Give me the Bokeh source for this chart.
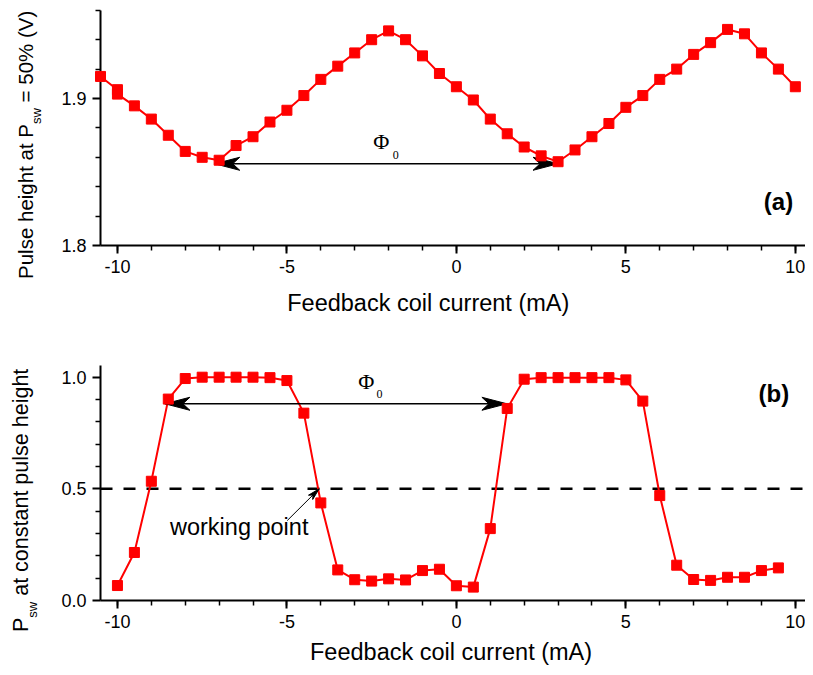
import math
from bokeh.plotting import figure
from bokeh.layouts import column
from bokeh.models import FixedTicker, Label, Range1d
from bokeh.embed import file_html
from bokeh.resources import INLINE

# ---------------- data ----------------
current_a = [-10.5, -10, -10, -9.5, -9, -8.5, -8, -7.5, -7, -6.5, -6, -5.5, -5,
             -4.5, -4, -3.5, -3, -2.5, -2, -1.5, -1, -0.5, 0,
             0.5, 1, 1.5, 2, 2.5, 3, 3.5, 4, 4.5, 5,
             5.5, 6, 6.5, 7, 7.5, 8, 8.5, 9, 9.5, 10]
height_a = [1.915, 1.906, 1.903, 1.895, 1.886, 1.875, 1.864, 1.860, 1.858, 1.868, 1.874, 1.884, 1.892,
            1.902, 1.913, 1.922, 1.931, 1.940, 1.946, 1.940, 1.929, 1.917, 1.908,
            1.899, 1.886, 1.876, 1.867, 1.861, 1.857, 1.865, 1.874, 1.883, 1.894,
            1.902, 1.913, 1.920, 1.930, 1.938, 1.947, 1.944, 1.931, 1.920, 1.908]

current_b = [-10, -9.5, -9, -8.5, -8, -7.5, -7, -6.5, -6, -5.5, -5,
             -4.5, -4, -3.5, -3, -2.5, -2, -1.5, -1, -0.5, 0,
             0.5, 1, 1.5, 2, 2.5, 3, 3.5, 4, 4.5, 5,
             5.5, 6, 6.5, 7, 7.5, 8, 8.5, 9, 9.5]
psw_b = [0.067, 0.215, 0.534, 0.902, 0.994, 1.0, 1.0, 1.0, 1.0, 0.998, 0.985,
         0.839, 0.437, 0.137, 0.093, 0.087, 0.097, 0.092, 0.134, 0.140, 0.066,
         0.060, 0.322, 0.860, 0.991, 0.998, 0.998, 0.998, 0.998, 0.998, 0.988,
         0.893, 0.470, 0.158, 0.094, 0.090, 0.104, 0.104, 0.134, 0.146]

x_ticks = [-10, -5, 0, 5, 10]
x_tick_labels = ["-10", "-5", "0", "5", "10"]
x_minor = [-10, -9, -8, -7, -6, -5, -4, -3, -2, -1, 0, 1, 2, 3, 4, 5, 6, 7, 8, 9, 10]
ya_ticks = [1.8, 1.9]
ya_tick_labels = ["1.8", "1.9"]
ya_minor = [1.82, 1.84, 1.86, 1.88, 1.92, 1.94, 1.96]
yb_ticks = [0.0, 0.5, 1.0]
yb_tick_labels = ["0.0", "0.5", "1.0"]
yb_minor = [0.1, 0.2, 0.3, 0.4, 0.6, 0.7, 0.8, 0.9]
working_level = 0.5

# annotation anchors (data units)
phi_arrow_a = (-7.13, 3.0, 1.8556)
phi_arrow_b = (-8.6, 1.49, 0.881)
wp_tail = (-4.99, 0.358)
wp_tip = (-4.05, 0.5)

X_BOUNDS = (-10.5, 10.3)
YA_BOUNDS = (1.8, 1.96)
YB_BOUNDS = (0.0, 1.052)

RED = "#ff0000"
SANS = "Liberation Sans"
SERIF = "Liberation Serif"
MID = 0.3465   # (ascent - descent) / 2 in em: baseline -> middle offset

# ---------------- geometry ----------------
W = 805
H1, H2 = 330, 337
AX_LEFT_PX = 100                       # pixel of x = -10.5
XS = (W - AX_LEFT_PX) / (X_BOUNDS[1] - X_BOUNDS[0])   # px per mA
X_RANGE = (X_BOUNDS[0] - AX_LEFT_PX / XS, X_BOUNDS[1])

YA_S = 1470.0                          # px per V
YA_RANGE = (1.8 - (H1 - 245) / YA_S, 1.8 + 245 / YA_S)
YB_S = 223.3                           # px per unit
YB_ZERO = 600 - H1                     # px from top of fig2 to y=0
YB_RANGE = (-(H2 - YB_ZERO) / YB_S, YB_ZERO / YB_S)


# reference picture pixel -> data
def rx(px):
    return (px - 460.7) / 34.2


def ry1(py):
    return 1.8 + (245 - py) / YA_S


def ry2(py):
    return (600 - py) / YB_S


ARIAL = {" ": 278, "P": 667, "u": 556, "l": 222, "s": 500, "e": 556, "h": 556, "i": 222,
         "g": 556, "t": 278, "a": 556, "w": 722, "=": 584, "5": 556, "0": 556, "%": 889,
         "(": 333, "V": 667, ")": 333, "c": 500, "o": 556, "n": 556, "p": 556}


def tw(s, size):
    return sum(ARIAL.get(ch, 556) for ch in s) / 1000.0 * size


def make_fig(h, yr, ybounds, yticks, yminor, ylabels):
    p = figure(width=W, height=h, output_backend="svg", toolbar_location=None,
               x_range=Range1d(*X_RANGE), y_range=Range1d(*yr))
    p.min_border = 0
    p.min_border_left = 0
    p.min_border_right = 0
    p.min_border_top = 0
    p.min_border_bottom = 0
    p.outline_line_color = None
    p.grid.visible = False
    p.background_fill_color = "white"
    p.border_fill_color = "white"
    xa, ya = p.xaxis[0], p.yaxis[0]
    xa.fixed_location = ybounds[0]
    xa.bounds = X_BOUNDS
    ya.fixed_location = X_BOUNDS[0]
    ya.bounds = ybounds
    for ax in (xa, ya):
        ax.axis_line_width = 2
        ax.axis_line_color = "black"
        ax.major_tick_line_width = 2
        ax.minor_tick_line_width = 1.5
        ax.major_tick_line_color = "black"
        ax.minor_tick_line_color = "black"
        ax.major_tick_in = 0
        ax.major_tick_out = 8
        ax.minor_tick_in = 0
        ax.minor_tick_out = 5
        ax.major_label_text_font = SANS
        ax.major_label_text_font_size = "18px"
        ax.major_label_text_color = "black"
        ax.major_label_standoff = 6
    xa.ticker = FixedTicker(ticks=x_ticks, minor_ticks=x_minor)
    xa.major_label_overrides = {t: l for t, l in zip(x_ticks, x_tick_labels)}
    ya.ticker = FixedTicker(ticks=yticks, minor_ticks=yminor)
    ya.major_label_overrides = {t: l for t, l in zip(yticks, ylabels)}
    return p


def add_text(p, ys, x, y, text, size, font=SANS, rotated=False, align="left",
             style="normal", on_baseline=True):
    """(x, y) is the baseline anchor in data units; drawn with a middle baseline."""
    if on_baseline:
        if rotated:
            x = x - MID * size / XS
        else:
            y = y + MID * size / ys
    p.add_layout(Label(x=x, y=y, text=text, angle=(math.pi / 2 if rotated else 0.0),
                       text_font=font, text_font_size=f"{size}px", text_align=align,
                       text_baseline="middle", text_font_style=style,
                       text_color="black"))


def add_head(p, ys, tail, tip, L, Wd):
    tx, ty = tip[0] * XS, tip[1] * ys
    sx, sy = tail[0] * XS, tail[1] * ys
    d = math.hypot(tx - sx, ty - sy)
    ux, uy = (tx - sx) / d, (ty - sy) / d
    nx, ny = -uy, ux
    bx, by = tx - L * ux, ty - L * uy
    pts = [(tx, ty), (bx + nx * Wd / 2, by + ny * Wd / 2),
           (tx - 0.72 * L * ux, ty - 0.72 * L * uy), (bx - nx * Wd / 2, by - ny * Wd / 2)]
    p.patch([q[0] / XS for q in pts], [q[1] / ys for q in pts], fill_color="black",
            line_color="black", line_width=1)


def double_arrow(p, ys, arrow):
    x0, x1, y = arrow
    p.segment(x0=[x0], y0=[y], x1=[x1], y1=[y], line_color="black", line_width=1.5)
    add_head(p, ys, (x1, y), (x0, y), 25, 13)
    add_head(p, ys, (x0, y), (x1, y), 25, 13)


def y_title(p, ys, x_base, y_start, pieces):
    """pieces: list of (text, size, baseline offset px); consecutive along the rotated line."""
    y = y_start
    for text, size, off in pieces:
        lead = len(text) - len(text.lstrip(" "))
        y += tw(" " * lead, size) / ys
        body = text.lstrip(" ")
        add_text(p, ys, x_base + off / XS, y, body, size, rotated=True)
        y += tw(body, size) / ys


# ---------------- panel (a) ----------------
p1 = make_fig(H1, YA_RANGE, YA_BOUNDS, ya_ticks, ya_minor, ya_tick_labels)
p1.line(current_a, height_a, line_color=RED, line_width=2)
p1.scatter(current_a, height_a, marker="square", size=10, fill_color=RED,
           line_color=RED, level="overlay")
double_arrow(p1, YA_S, phi_arrow_a)
add_text(p1, YA_S, rx(376.7), ry1(148.3), "\u03a6", 22, font=SERIF)
add_text(p1, YA_S, rx(396.5), ry1(158.3), "0", 12, font=SERIF)
add_text(p1, YA_S, rx(785.7), ry1(201), "(a)", 24, align="center", style="bold",
         on_baseline=False)
add_text(p1, YA_S, rx(290), ry1(311), "Feedback coil current (mA)", 23.5)
y_title(p1, YA_S, rx(33), ry1(278.5),
        [("Pulse height at P", 20.5, 0), ("sw", 13, 8), (" = 50% (V)", 20.5, 0)])

# ---------------- panel (b) ----------------
p2 = make_fig(H2, YB_RANGE, YB_BOUNDS, yb_ticks, yb_minor, yb_tick_labels)
p2.line(list(X_BOUNDS), [working_level, working_level], line_color="black",
        line_width=2.5, line_dash="12 11")
p2.line(current_b, psw_b, line_color=RED, line_width=2)
p2.scatter(current_b, psw_b, marker="square", size=10, fill_color=RED,
           line_color=RED, level="overlay")
double_arrow(p2, YB_S, phi_arrow_b)
add_text(p2, YB_S, rx(361.7), ry2(388.3), "\u03a6", 22, font=SERIF)
add_text(p2, YB_S, rx(380), ry2(397.3), "0", 12, font=SERIF)
add_text(p2, YB_S, rx(781), ry2(393), "(b)", 24, align="center", style="bold",
         on_baseline=False)
add_text(p2, YB_S, rx(171.7), ry2(535), "working point", 23.5)
p2.segment(x0=[wp_tail[0]], y0=[wp_tail[1]], x1=[wp_tip[0]], y1=[wp_tip[1]],
           line_color="black", line_width=1)
add_head(p2, YB_S, wp_tail, wp_tip, 12, 6)
add_text(p2, YB_S, rx(313), ry2(660), "Feedback coil current (mA)", 23.5)
y_title(p2, YB_S, rx(28.5), ry2(631.5),
        [("P", 21.5, 0), ("sw", 13, 8.5), (" at constant pulse height", 21.5, 0)])

layout = column(p1, p2)
open("out.html", "w").write(file_html(layout, INLINE))
